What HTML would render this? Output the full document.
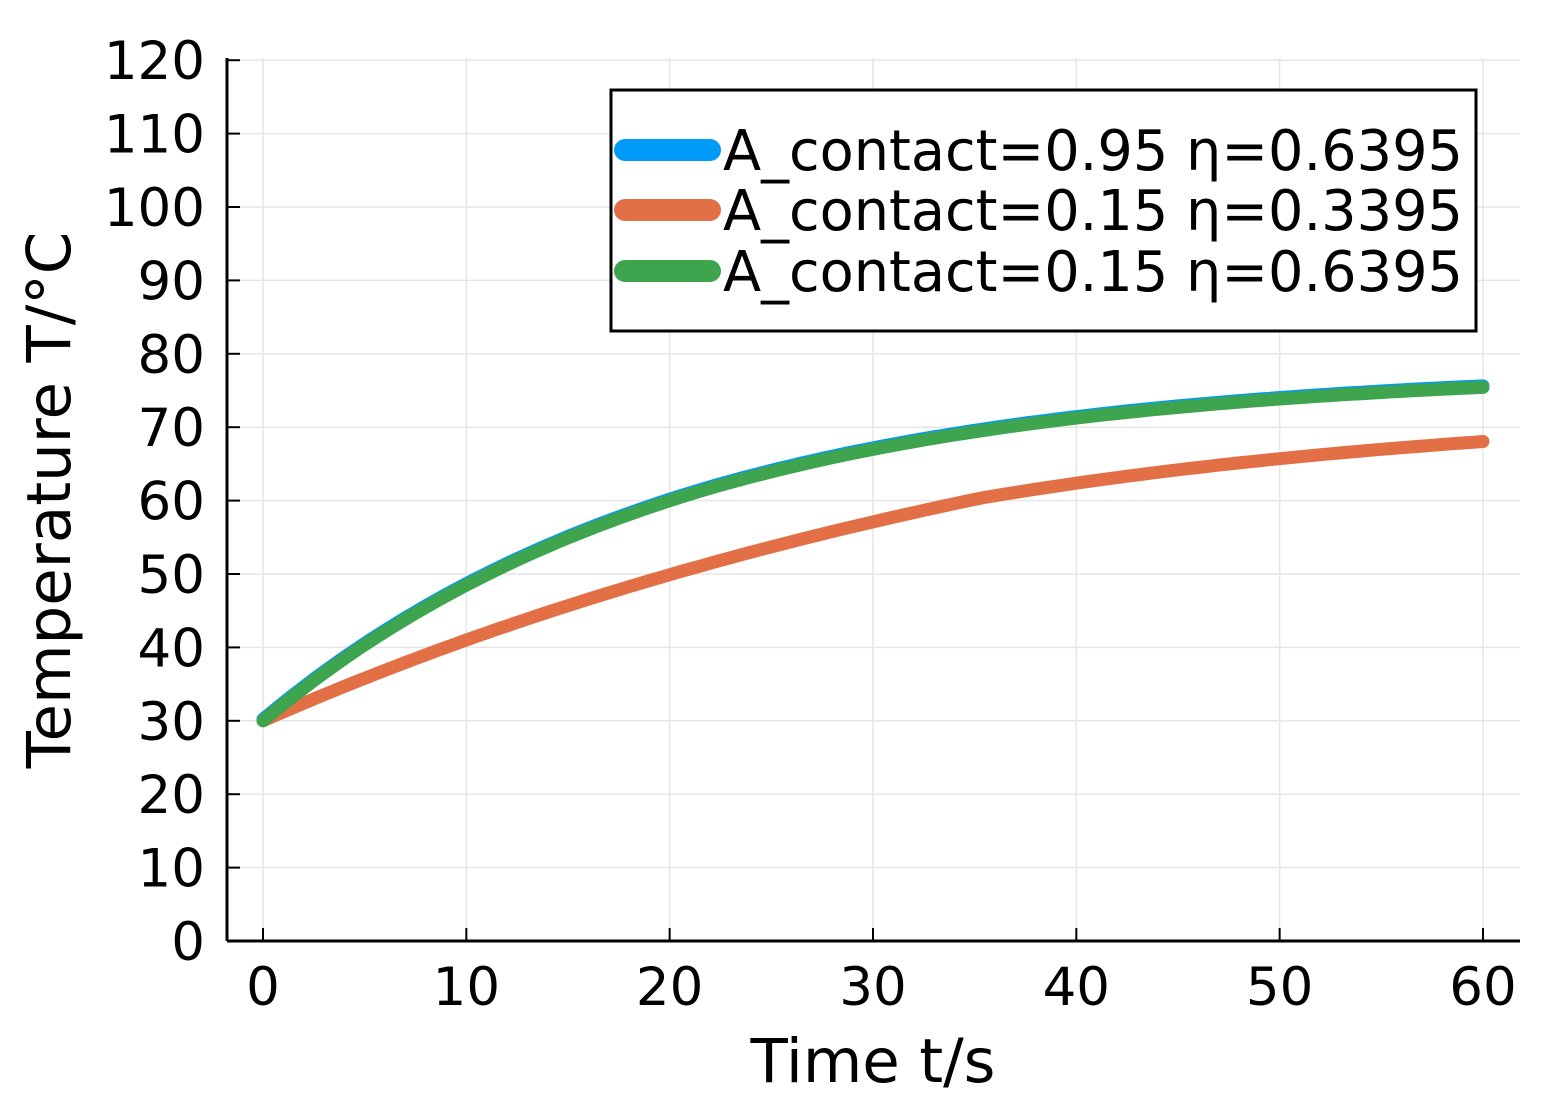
<!DOCTYPE html>
<html><head><meta charset="utf-8"><style>
body{margin:0;background:#fff;}
svg text{font-family:"DejaVu Sans","Liberation Sans",sans-serif;fill:#000;}
</style></head><body>
<svg id="s" width="1550" height="1106" xmlns="http://www.w3.org/2000/svg">
<g id="grid" stroke="#e6e6e6" stroke-width="1.5"></g>
<g id="ticks"></g>
<line x1="227" y1="941" x2="1520" y2="941" stroke="#000" stroke-width="3"/>
<line x1="227" y1="941" x2="227" y2="58" stroke="#000" stroke-width="3"/>
<g id="series" fill="none" stroke-linecap="round" stroke-linejoin="round"></g>
<text x="873" y="1082" font-size="61" text-anchor="middle">Time t/s</text>
<text transform="translate(70,500) rotate(-90)" font-size="61" text-anchor="middle">Temperature T/°C</text>
<rect x="611" y="90" width="865" height="241" fill="#fff" stroke="#000" stroke-width="3"/>
<g stroke-linecap="round" stroke-width="22">
<line x1="625" y1="150" x2="710" y2="150" stroke="#009af9"/>
<line x1="625" y1="210" x2="710" y2="210" stroke="#e26f46"/>
<line x1="625" y1="271" x2="710" y2="271" stroke="#3ea44e"/>
</g>
<g font-size="56">
<text x="723" y="170" textLength="740" lengthAdjust="spacingAndGlyphs">A_contact=0.95 η=0.6395</text>
<text x="723" y="230" textLength="740" lengthAdjust="spacingAndGlyphs">A_contact=0.15 η=0.3395</text>
<text x="723" y="291" textLength="740" lengthAdjust="spacingAndGlyphs">A_contact=0.15 η=0.6395</text>
</g>
</svg>
<script>
var NS="http://www.w3.org/2000/svg";
function X(t){return 263+t*20.333;}
function Y(T){return 941-T*7.34;}
function el(p,tag,a,txt){var e=document.createElementNS(NS,tag);for(var k in a)e.setAttribute(k,a[k]);if(txt!==undefined)e.textContent=txt;document.getElementById(p).appendChild(e);}
for(var v=0;v<=120;v+=10){var y=Y(v);
 el("grid","line",{x1:227,x2:1520,y1:y,y2:y});
 el("ticks","line",{x1:227,x2:240,y1:y,y2:y,stroke:"#000","stroke-width":2});
 el("ticks","text",{x:205,y:y+19,"font-size":53,"text-anchor":"end"},String(v));}
for(var t=0;t<=60;t+=10){var x=X(t);
 el("grid","line",{x1:x,x2:x,y1:58,y2:941});
 el("ticks","line",{x1:x,x2:x,y1:941,y2:928,stroke:"#000","stroke-width":2});
 el("ticks","text",{x:x,y:1005,"font-size":53,"text-anchor":"middle"},String(t));}
function green(t){return t<=20?30+48.9*(1-Math.pow(0.622,t/10)):60+17.9*(1-Math.pow(0.61,(t-20)/10));}
function orange(t){return t<=35?30+57.6*(1-Math.pow(0.809,t/10)):60.2+13.3*(1-Math.pow(0.7,(t-35)/10));}
function path(f,off){var d="";for(var t=0;t<=60.001;t+=0.5){d+=(t?"L":"M")+X(t).toFixed(1)+","+(Y(f(t))+off).toFixed(1);}return d;}
el("series","path",{d:path(green,-1.5),stroke:"#009af9","stroke-width":13});
el("series","path",{d:path(orange,0),stroke:"#e26f46","stroke-width":13});
el("series","path",{d:path(green,0),stroke:"#3ea44e","stroke-width":13});
</script>
</body></html>
